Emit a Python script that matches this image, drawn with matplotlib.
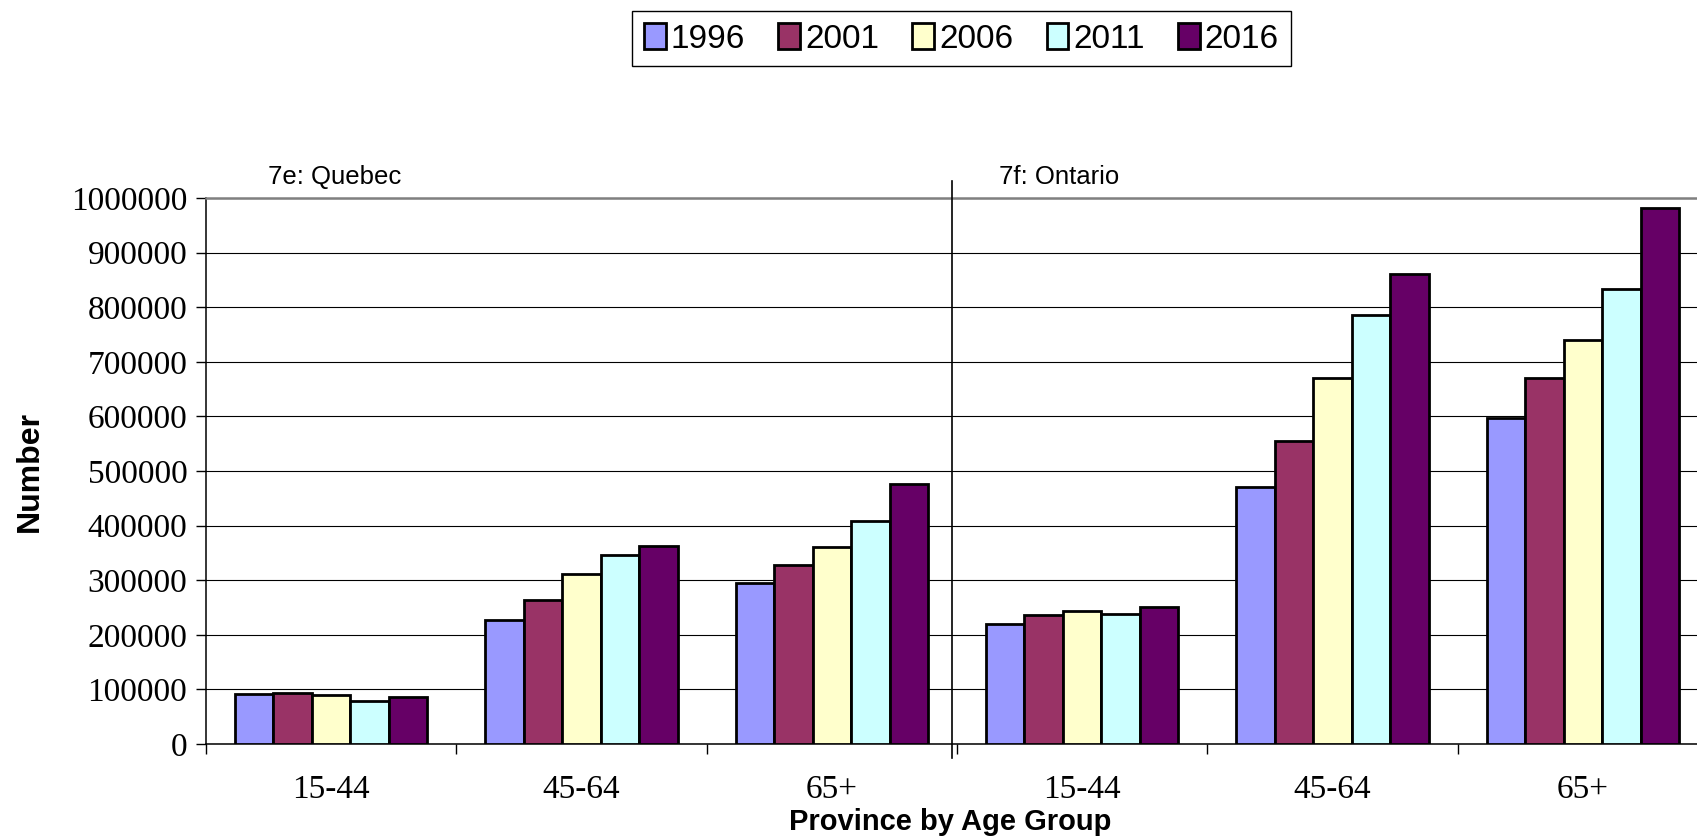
import matplotlib
matplotlib.use('Agg')
import matplotlib.pyplot as plt
import matplotlib.ticker as mticker
import numpy as np

# fonts
plt.rcParams['font.family'] = 'Liberation Sans'

# data
provinces = ['7e: Quebec', '7f: Ontario']
age_groups = ['15-44', '45-64', '65+']
years = ['1996', '2001', '2006', '2011', '2016']
colors = ['#9999FF', '#993366', '#FFFFCC', '#CCFFFF', '#660066']

quebec_1996 = [91000, 227000, 294000]
quebec_2001 = [93000, 264000, 328000]
quebec_2006 = [89500, 311000, 360000]
quebec_2011 = [78000, 346000, 409000]
quebec_2016 = [85500, 362000, 476000]

ontario_1996 = [220000, 471000, 597000]
ontario_2001 = [236000, 555000, 670000]
ontario_2006 = [243000, 671000, 740000]
ontario_2011 = [238000, 786000, 834000]
ontario_2016 = [251000, 860000, 982000]

series = [
    quebec_1996 + ontario_1996,
    quebec_2001 + ontario_2001,
    quebec_2006 + ontario_2006,
    quebec_2011 + ontario_2011,
    quebec_2016 + ontario_2016,
]
cat_labels = age_groups * len(provinces)

W, H = 1697, 836
fig = plt.figure(figsize=(W / 100, H / 100), dpi=100)
ax = fig.add_axes([206 / W, 92 / H, 1502 / W, 546 / H])

x = np.arange(len(cat_labels))
bw = 1 / 6.5
for i, (yr, vals, c) in enumerate(zip(years, series, colors)):
    ax.bar(x + (i - 2) * bw, vals, width=bw, color=c, edgecolor='black',
           linewidth=2.0, label=yr, zorder=3)

ax.set_xlim(-0.5, len(cat_labels) - 0.5)
ax.set_ylim(0, 1000000)

# gridlines
ax.set_yticks(np.arange(0, 1000001, 100000))
ax.yaxis.set_major_formatter(mticker.FuncFormatter(lambda v, p: '%d' % v))
ax.yaxis.grid(True, color='black', linewidth=0.8, zorder=0)
ax.set_axisbelow(True)

# x ticks: marks at boundaries, labels at centres
ax.set_xticks(np.arange(-0.5, len(cat_labels) + 0.5, 1))
ax.set_xticklabels([])
ax.set_xticks(x, minor=True)
ax.set_xticklabels(cat_labels, minor=True, family='Liberation Serif', fontsize=24)
ax.tick_params(axis='x', which='major', direction='out', length=7.5, width=1)
ax.tick_params(axis='x', which='minor', length=0, pad=22)
ax.tick_params(axis='y', direction='out', length=7.5, width=1, pad=6)
for lab in ax.get_yticklabels():
    lab.set_family('Liberation Serif')
    lab.set_fontsize(24)

for s in ['left', 'bottom']:
    ax.spines[s].set_color('black')
    ax.spines[s].set_linewidth(1.1)
for s in ['top', 'right']:
    ax.spines[s].set_color('#808080')
    ax.spines[s].set_linewidth(1.8)

# separator between provinces
trans = matplotlib.transforms.blended_transform_factory(ax.transData, ax.transAxes)
ax.plot([2.48, 2.48], [-0.026, 1.031], color='black', linewidth=1.2,
        transform=trans, clip_on=False, zorder=4)

# panel labels
ax.text(-0.252, 1.0385, provinces[0], transform=trans, fontsize=18.5,
        va='center', ha='left')
ax.text(2.668, 1.0385, provinces[1], transform=trans, fontsize=18.5,
        va='center', ha='left')

# axis titles
fig.text(30 / W, 1 - 471 / H, 'Number', rotation=90, fontsize=23,
         fontweight='bold', ha='center', va='center')
fig.text(950 / W, 1 - 822 / H, 'Province by Age Group', fontsize=21,
         fontweight='bold', ha='center', va='center')

leg = fig.legend(loc='upper center', bbox_to_anchor=(961.5 / W, 1 - 11 / H),
                 ncol=5, fontsize=24, frameon=True, fancybox=False,
                 edgecolor='black', framealpha=1, handlelength=0.65,
                 handleheight=0.85, handletextpad=0.15, columnspacing=1.0,
                 borderpad=0.35, borderaxespad=0)
leg.get_frame().set_linewidth(1.0)

fig.savefig('out.png', dpi=100)
